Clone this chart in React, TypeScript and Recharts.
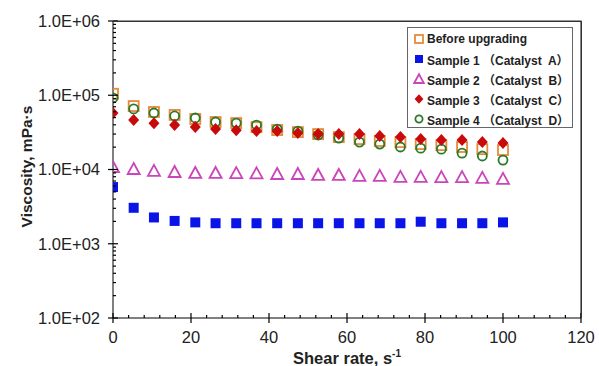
import React from 'react';
import * as R from 'recharts';
import { ScatterChart, Scatter, XAxis, YAxis, Legend } from 'recharts';

// shear rate, s-1
const shearRate = [0, 5.3, 10.5, 15.8, 21.1, 26.3, 31.6, 36.8, 42.1, 47.4, 52.6, 57.9, 63.2, 68.4, 73.7, 78.9, 84.2, 89.5, 94.7, 100];

// viscosity, mPa·s
const beforeUpgrading = [104700, 71500, 59500, 54300, 47900, 43600, 42200, 37200, 34000, 31900, 30000, 27300, 25700, 24200, 23400, 22000, 21300, 20100, 18800, 18300];
const sample1 = [5800, 3050, 2260, 2030, 1940, 1890, 1890, 1890, 1890, 1890, 1890, 1890, 1890, 1890, 1890, 1980, 1890, 1890, 1890, 1940];
const sample2 = [10800, 10150, 9600, 9260, 8980, 8980, 8930, 8880, 8700, 8700, 8440, 8440, 8190, 8190, 7940, 7940, 7900, 7900, 7700, 7470];
const sample3 = [57600, 46300, 42100, 39700, 37300, 35000, 33900, 32900, 32900, 30900, 30000, 30000, 30000, 28200, 27300, 25700, 24900, 24900, 23400, 22700];
const sample4 = [92000, 65500, 57700, 52600, 49400, 43600, 42200, 39700, 35000, 32900, 29100, 26500, 23400, 22000, 20100, 19400, 18800, 16600, 15200, 13400];

const X_MAX = 120;
const Y_MIN = 100;
const Y_MAX = 1000000;
const xTicks = [0, 20, 40, 60, 80, 100, 120];
const xMinorTicks = [4, 8, 12, 16, 24, 28, 32, 36, 44, 48, 52, 56, 64, 68, 72, 76, 84, 88, 92, 96, 104, 108, 112, 116];
const yTicks = [100, 1000, 10000, 100000, 1000000];
const yMinorTicks = [100, 1000, 10000, 100000].flatMap((d) => [2, 3, 4, 5, 6, 7, 8, 9].map((m) => m * d));

const W = 599;
const H = 366;
const MARGIN = { top: 21, right: 18, bottom: 0, left: 0 };
const Y_AXIS_W = 113;
const X_AXIS_H = 48;
const PLOT_W = W - MARGIN.left - MARGIN.right - Y_AXIS_W;
const PLOT_H = H - MARGIN.top - MARGIN.bottom - X_AXIS_H;
const GAP = 13; // axis line to tick label

const ORANGE = '#E8893A';
const BLUE = '#0A14E6';
const MAGENTA = '#CC44BB';
const RED = '#C80A0A';
const GREEN = '#2A7A2A';
const INK = '#222';
const FRAME = '#333';
const FONT = 'Arial, "Liberation Sans", "Noto Sans CJK SC", sans-serif';

const toPoints = (ys: number[]) => shearRate.map((x, i) => ({ x, y: ys[i] }));

const OpenSquare = ({ cx, cy, s = 1 }: any) => (
  <rect x={cx - 5 * s} y={cy - 5 * s} width={10 * s} height={10 * s} fill="none" stroke={ORANGE} strokeWidth={1.8} />
);
const FilledSquare = ({ cx, cy, s = 1 }: any) => (
  <rect x={cx - 5 * s} y={cy - 5 * s} width={10 * s} height={10 * s} fill={BLUE} />
);
const OpenTriangle = ({ cx, cy, s = 1 }: any) => (
  <polygon
    points={`${cx},${cy - 6 * s} ${cx + 6 * s},${cy + 5 * s} ${cx - 6 * s},${cy + 5 * s}`}
    fill="none" stroke={MAGENTA} strokeWidth={1.8} />
);
const Diamond = ({ cx, cy, s = 1 }: any) => (
  <polygon
    points={`${cx},${cy - 6 * s} ${cx + 5.5 * s},${cy} ${cx},${cy + 6 * s} ${cx - 5.5 * s},${cy}`}
    fill={RED} />
);
const OpenCircle = ({ cx, cy, s = 1 }: any) => (
  <circle cx={cx} cy={cy} r={4.5 * s} fill="none" stroke={GREEN} strokeWidth={1.8} />
);

const legendItems = [
  { label: 'Before upgrading', Shape: OpenSquare },
  { label: 'Sample 1 （Catalyst  A）', Shape: FilledSquare },
  { label: 'Sample 2 （Catalyst  B）', Shape: OpenTriangle },
  { label: 'Sample 3 （Catalyst  C）', Shape: Diamond },
  { label: 'Sample 4 （Catalyst  D）', Shape: OpenCircle },
];

const renderLegend = () => (
  <div
    style={{
      border: '1px solid #666',
      background: '#fff',
      padding: '1px 0',
      fontFamily: FONT,
      fontWeight: 'bold',
      fontSize: 12,
      color: INK,
      boxSizing: 'border-box',
      width: 166,
      height: 101,
    }}
  >
    {legendItems.map(({ label, Shape }) => (
      <div key={label} style={{ height: 20, display: 'flex', alignItems: 'center', whiteSpace: 'pre' }}>
        <svg width={14} height={20} style={{ marginLeft: 4, marginRight: 1 }}>
          <Shape cx={7} cy={10} s={0.8} />
        </svg>
        <span>{label}</span>
      </div>
    ))}
  </div>
);

const fmtExp = (v: number) => `1.0E+${String(Math.round(Math.log10(v))).padStart(2, '0')}`;

// x ticks: majors cross the axis, minors point inside
const XTick = ({ x, y, payload }: any) => {
  const v = payload.value;
  const px = Number(x);
  const ay = Number(y) - GAP;
  const major = xTicks.includes(v);
  return (
    <g>
      <path d={`M${px},${ay - (major ? 5 : 3)}V${major ? ay + 5 : ay}`} stroke="#000" strokeWidth={1.2} fill="none" />
      {major && (
        <text x={px} y={Number(y)} dy="0.71em" textAnchor="middle" fontSize={16.5} fontFamily={FONT} fill={INK}>
          {v}
        </text>
      )}
    </g>
  );
};

// y ticks: majors cross, minors (2..9 per decade) point inside
const YTick = ({ x, y, payload }: any) => {
  const v = payload.value;
  const py = Number(y);
  const ax = Number(x) + GAP;
  const major = yTicks.includes(v);
  return (
    <g>
      <path d={`M${major ? ax - 5 : ax},${py}H${ax + (major ? 5 : 3)}`} stroke="#000" strokeWidth={1.2} fill="none" />
      {major && (
        <text x={Number(x)} y={py} dy="0.355em" textAnchor="end" fontSize={16.5} fontFamily={FONT} fill={INK}>
          {fmtExp(v)}
        </text>
      )}
    </g>
  );
};

// top/right edges of the plot box, from the chart's own plot area when the hook exists
const usePlotAreaSafe: any = (R as any).usePlotArea || (() => null);
const PlotFrame = () => {
  const area = usePlotAreaSafe();
  if (!area) return null;
  const { x, y, width, height } = area;
  return <path d={`M${x},${y}H${x + width}V${y + height}`} stroke={FRAME} strokeWidth={1.2} fill="none" />;
};

const YTitle = ({ viewBox }: any) => (
  <text
    transform={`translate(${viewBox.x + 32}, ${viewBox.y + viewBox.height / 2 - 3}) rotate(-90)`}
    textAnchor="middle"
    fontFamily={FONT}
    fontWeight="bold"
    fontSize={15.5}
    fill={INK}
  >
    Viscosity, mPa·s
  </text>
);

const XTitle = ({ viewBox }: any) => (
  <text
    x={viewBox.x + viewBox.width / 2}
    y={viewBox.y + 46}
    textAnchor="middle"
    fontFamily={FONT}
    fontWeight="bold"
    fontSize={16.5}
    fill={INK}
  >
    Shear rate, s<tspan dy={-7} fontSize={10}>-1</tspan>
  </text>
);

export default function App() {
  return (
    <div style={{ position: 'absolute', left: 0, top: 0, width: W, height: H, background: '#fff' }}>
      <ScatterChart width={W} height={H} margin={MARGIN}>
        <XAxis
          type="number"
          dataKey="x"
          domain={[0, X_MAX]}
          ticks={[...xTicks, ...xMinorTicks].sort((a, b) => a - b)}
          interval={0}
          allowDataOverflow
          height={X_AXIS_H}
          tickSize={0}
          tickMargin={GAP}
          tickLine={false}
          tick={(p: any) => <XTick {...p} />}
          stroke="#000"
          label={<XTitle />}
        />
        <YAxis
          type="number"
          dataKey="y"
          scale="log"
          domain={[Y_MIN, Y_MAX]}
          ticks={[...yTicks, ...yMinorTicks].sort((a, b) => a - b)}
          interval={0}
          allowDataOverflow
          width={Y_AXIS_W}
          tickSize={0}
          tickMargin={GAP}
          tickLine={false}
          tick={(p: any) => <YTick {...p} />}
          stroke="#000"
          label={<YTitle />}
        />
        <PlotFrame />
        <Legend
          content={renderLegend}
          layout="horizontal"
          verticalAlign="middle"
          align="center"
          wrapperStyle={{ position: 'absolute', left: 407, top: 27, width: 166, height: 101 }}
        />
        <Scatter name="Before upgrading" data={toPoints(beforeUpgrading)} shape={<OpenSquare />} isAnimationActive={false} />
        <Scatter name="Sample 1（Catalyst A）" data={toPoints(sample1)} shape={<FilledSquare />} isAnimationActive={false} />
        <Scatter name="Sample 2（Catalyst B）" data={toPoints(sample2)} shape={<OpenTriangle />} isAnimationActive={false} />
        <Scatter name="Sample 4（Catalyst D）" data={toPoints(sample4)} shape={<OpenCircle />} isAnimationActive={false} />
        <Scatter name="Sample 3（Catalyst C）" data={toPoints(sample3)} shape={<Diamond />} isAnimationActive={false} />
      </ScatterChart>
      {/* same two edges as a plain overlay, in case the hook above is not there */}
      <div
        style={{
          position: 'absolute',
          left: MARGIN.left + Y_AXIS_W,
          top: MARGIN.top,
          width: PLOT_W + 1,
          height: PLOT_H,
          borderTop: `1px solid ${FRAME}`,
          borderRight: `1px solid ${FRAME}`,
          boxSizing: 'border-box',
          pointerEvents: 'none',
        }}
      />
    </div>
  );
}
